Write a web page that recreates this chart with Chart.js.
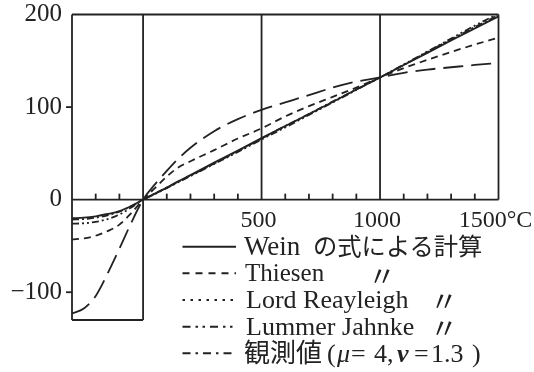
<!DOCTYPE html>
<html>
<head>
<meta charset="utf-8">
<script src="https://cdn.jsdelivr.net/npm/chart.js@4.4.0/dist/chart.umd.min.js"></script>
<style>
  html, body { margin: 0; padding: 0; background: #fff; }
  #wrap { position: relative; width: 534px; height: 372px; }
  #legend { position: absolute; left: 0; top: 0; pointer-events: none; }
</style>
</head>
<body>
<div id="wrap">
  <canvas id="c" width="534" height="372"></canvas>
  <svg id="legend" width="534" height="372" xmlns="http://www.w3.org/2000/svg">
    <g stroke="#222" stroke-width="2" fill="none">
      <line x1="182.5" y1="246.7" x2="236" y2="246.7"/>
      <line x1="182.5" y1="273.3" x2="236" y2="273.3" stroke-dasharray="7 6"/>
      <line x1="182.5" y1="300" x2="236" y2="300" stroke-dasharray="2.5 5.5"/>
      <line x1="182.5" y1="326.7" x2="236" y2="326.7" stroke-dasharray="8 5 2.5 4.5 2.5 5"/>
      <line x1="182.5" y1="353.3" x2="236" y2="353.3" stroke-dasharray="8 5 2.5 5"/>
    </g>
    <g fill="#222" font-family="Liberation Serif" font-size="26">
      <text x="244" y="254.5" font-size="27">Wein<tspan x="313" font-family="Noto Sans CJK JP" font-size="24.3">の式による計算</tspan></text>
      <text x="245" y="281.3" font-size="25">Thiesen<tspan x="368" y="287.3" font-family="Noto Sans CJK JP" font-size="28">〃</tspan></text>
      <text x="246" y="308.3">Lord Reayleigh<tspan x="430" y="312.3" font-family="Noto Sans CJK JP" font-size="28">〃</tspan></text>
      <text x="246" y="335">Lummer Jahnke<tspan x="430" y="339.3" font-family="Noto Sans CJK JP" font-size="28">〃</tspan></text>
      <text x="244" y="361.7"><tspan font-family="Noto Sans CJK JP">観測値</tspan><tspan x="327">(</tspan><tspan x="337" font-style="italic">μ</tspan><tspan x="351">=</tspan><tspan x="374">4,</tspan><tspan x="397" font-style="italic" font-weight="bold">ν</tspan><tspan x="414">=</tspan><tspan x="431">1.3</tspan><tspan x="472">)</tspan></text>
    </g>
  </svg>
</div>
<script>
// temperatures (°C) where the curves were read
const temps = [-300, -250, -200, -150, -100, -50, 0, 50, 100, 150, 200, 300, 400, 500, 600, 700, 800, 900, 1000, 1100, 1200, 1300, 1400, 1500];

const wien     = [-20, -19.5, -18, -15.5, -12.3, -6.8, 0, 6.5, 13, 20, 26.5, 40, 53, 66.5, 79.5, 92.5, 105.5, 119, 132, 145.5, 158.5, 172, 185, 198];
const thiesen  = [-43, -41.8, -39, -34, -27, -14.5, 0, 12.5, 25, 35, 41.5, 53.5, 66, 77, 90, 101, 111, 121, 132, 142, 151, 159.5, 167.5, 175];
const rayleigh = [-123, -117.5, -104, -80, -53, -25, 0, 16.5, 31, 44.5, 56, 74, 87, 97, 105, 113, 121, 127.5, 132, 137, 140.5, 143, 145.5, 147.5];
const lummer   = [-26, -25.5, -24, -21, -16, -8.5, 0, 6, 12.5, 19, 25.5, 38.5, 51.5, 65, 78, 91.5, 105, 118.5, 132, 146, 160, 174, 188, 201];
const observed = [-21.5, -21, -19.5, -17, -13, -7, 0, 6.5, 13, 19.5, 26, 39, 52.5, 66, 79.5, 92.5, 106, 119, 132, 145.5, 159.5, 173, 186.5, 199.5];

const xTickValues = [500, 1000, 1500];
const xTickLabels = ['500', '1000', '1500°C'];
const yTickValues = [-100, 0, 100, 200];
const yTickLabels = ['−100', '0', '100', '200'];
const minorTicks = [-200, -100, 100, 200, 300, 400, 600, 700, 800, 900, 1100, 1200, 1300, 1400];
const yTickMarks = [-100, 100];

const pts = arr => temps.map((t, i) => ({ x: t, y: arr[i] }));
const line = (data, dash) => ({
  data: pts(data),
  borderColor: '#222',
  borderWidth: 1.8,
  borderDash: dash,
  pointRadius: 0,
  fill: false,
  cubicInterpolationMode: 'monotone'
});

// box frame, split panels and small tick marks
const framePlugin = {
  id: 'frame',
  beforeDatasetsDraw(chart) {
    const { ctx, scales: { x, y } } = chart;
    const X = v => x.getPixelForValue(v), Y = v => y.getPixelForValue(v);
    ctx.save();
    ctx.strokeStyle = '#222';
    ctx.lineWidth = 1.8;
    const seg = (x1, y1, x2, y2) => {
      ctx.beginPath();
      ctx.moveTo(X(x1), Y(y1));
      ctx.lineTo(X(x2), Y(y2));
      ctx.stroke();
    };
    seg(-300, 200, 1500, 200);
    seg(1500, 200, 1500, 0);
    seg(-300, 0, 1500, 0);
    seg(-300, 200, -300, -130);
    seg(0, 200, 0, -130);
    seg(-300, -130, 0, -130);
    seg(500, 0, 500, 200);
    seg(1000, 0, 1000, 200);
    minorTicks.forEach(v => {
      ctx.beginPath();
      ctx.moveTo(X(v), Y(0));
      ctx.lineTo(X(v), Y(0) - 6);
      ctx.stroke();
    });
    yTickMarks.forEach(v => {
      ctx.beginPath();
      ctx.moveTo(X(-300), Y(v));
      ctx.lineTo(X(-300) - 6, Y(v));
      ctx.stroke();
    });
    ctx.restore();
  }
};

new Chart(document.getElementById('c'), {
  type: 'line',
  data: {
    datasets: [
      line(wien, []),
      line(thiesen, [7, 5]),
      line(rayleigh, [20, 8]),
      line(lummer, [7, 3, 2, 3, 2, 3]),
      line(observed, [7, 3, 2, 3])
    ]
  },
  options: {
    responsive: false,
    animation: false,
    devicePixelRatio: 1,
    layout: { padding: { left: 0, right: 35.5, top: 14.5, bottom: 52 } },
    plugins: { legend: { display: false }, tooltip: { enabled: false } },
    scales: {
      x: {
        type: 'linear',
        min: -300,
        max: 1500,
        position: { y: 0 },
        grid: { display: false, drawTicks: false },
        border: { display: false },
        afterBuildTicks: s => { s.ticks = xTickValues.map(v => ({ value: v })); },
        afterFit: s => { s.paddingLeft = 0; s.paddingRight = 0; s.paddingTop = 0; s.paddingBottom = 0; },
        ticks: {
          autoSkip: false,
          maxRotation: 0,
          padding: 7,
          labelOffset: -3,
          color: '#222',
          font: { family: 'Liberation Serif', size: 24 },
          callback: (v, i) => xTickLabels[i]
        }
      },
      y: {
        type: 'linear',
        min: -130,
        max: 200,
        grid: { display: false, drawTicks: false },
        border: { display: false },
        afterBuildTicks: s => { s.ticks = yTickValues.map(v => ({ value: v })); },
        afterFit: s => { s.width = 72; s.paddingTop = 0; s.paddingBottom = 0; },
        ticks: {
          padding: 10,
          color: '#222',
          font: { family: 'Liberation Serif', size: 25 },
          callback: (v, i) => yTickLabels[i]
        }
      }
    }
  },
  plugins: [framePlugin]
});
</script>
</body>
</html>
